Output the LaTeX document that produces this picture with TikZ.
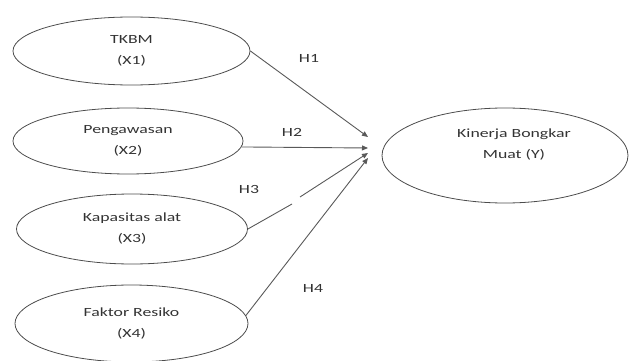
\documentclass[tikz,border=0pt]{standalone}
\usepackage{fontspec}
\setmainfont{Carlito}[FakeStretch=1.42]
\usetikzlibrary{shapes.geometric,arrows.meta}
\begin{document}
\begin{tikzpicture}[x=1pt,y=-1pt,
  var/.style={draw=black!70, line width=0.8pt, ellipse, inner sep=0pt},
  lbl/.style={text=black!80, font=\fontsize{12.5}{21}\selectfont, align=center},
  conn/.style={draw=black!65, line width=0.9pt},
  arr/.style={conn, -{Triangle[length=6pt,width=5pt]}},
  hyp/.style={text=black!80, font=\fontsize{12.5}{15}\selectfont}]
\useasboundingbox (0,0) rectangle (629,361);
\node[var, lbl, minimum width=237, minimum height=68] (X1) at (131.5,51) {TKBM\\(X1)};
\node[var, lbl, minimum width=230, minimum height=66] (X2) at (128,141) {Pengawasan\\(X2)};
\node[var, lbl, minimum width=231, minimum height=70] (X3) at (132,229) {Kapasitas alat\\(X3)};
\node[var, lbl, minimum width=233, minimum height=77] (X4) at (131.5,323.5) {Faktor Resiko\\(X4)};
\node[var, minimum width=246, minimum height=95] (Y) at (505,155.5) {};
\node[lbl] (Ytxt) at (514,145) {Kinerja Bongkar\\Muat (Y)};
\coordinate (t1) at (368,137);
\coordinate (t2) at (368,148);
\coordinate (t3) at (368,153);
\coordinate (t4) at (368,158);
\coordinate (g1) at (292,204);
\coordinate (g2) at (300,197);
\draw[arr] (X1.east) -- (t1);
\draw[arr] (X2.-3) -- (t2);
\draw[conn] (X3.east) -- (g1);
\draw[arr] (g2) -- (t3);
\draw[arr] (X4.4) -- (t4);
\node[hyp] (H1) at (309,58) {H1};
\node[hyp] (H2) at (292,132) {H2};
\node[hyp] (H3) at (249,189) {H3};
\node[hyp] (H4) at (313,288) {H4};
\end{tikzpicture}
\end{document}
